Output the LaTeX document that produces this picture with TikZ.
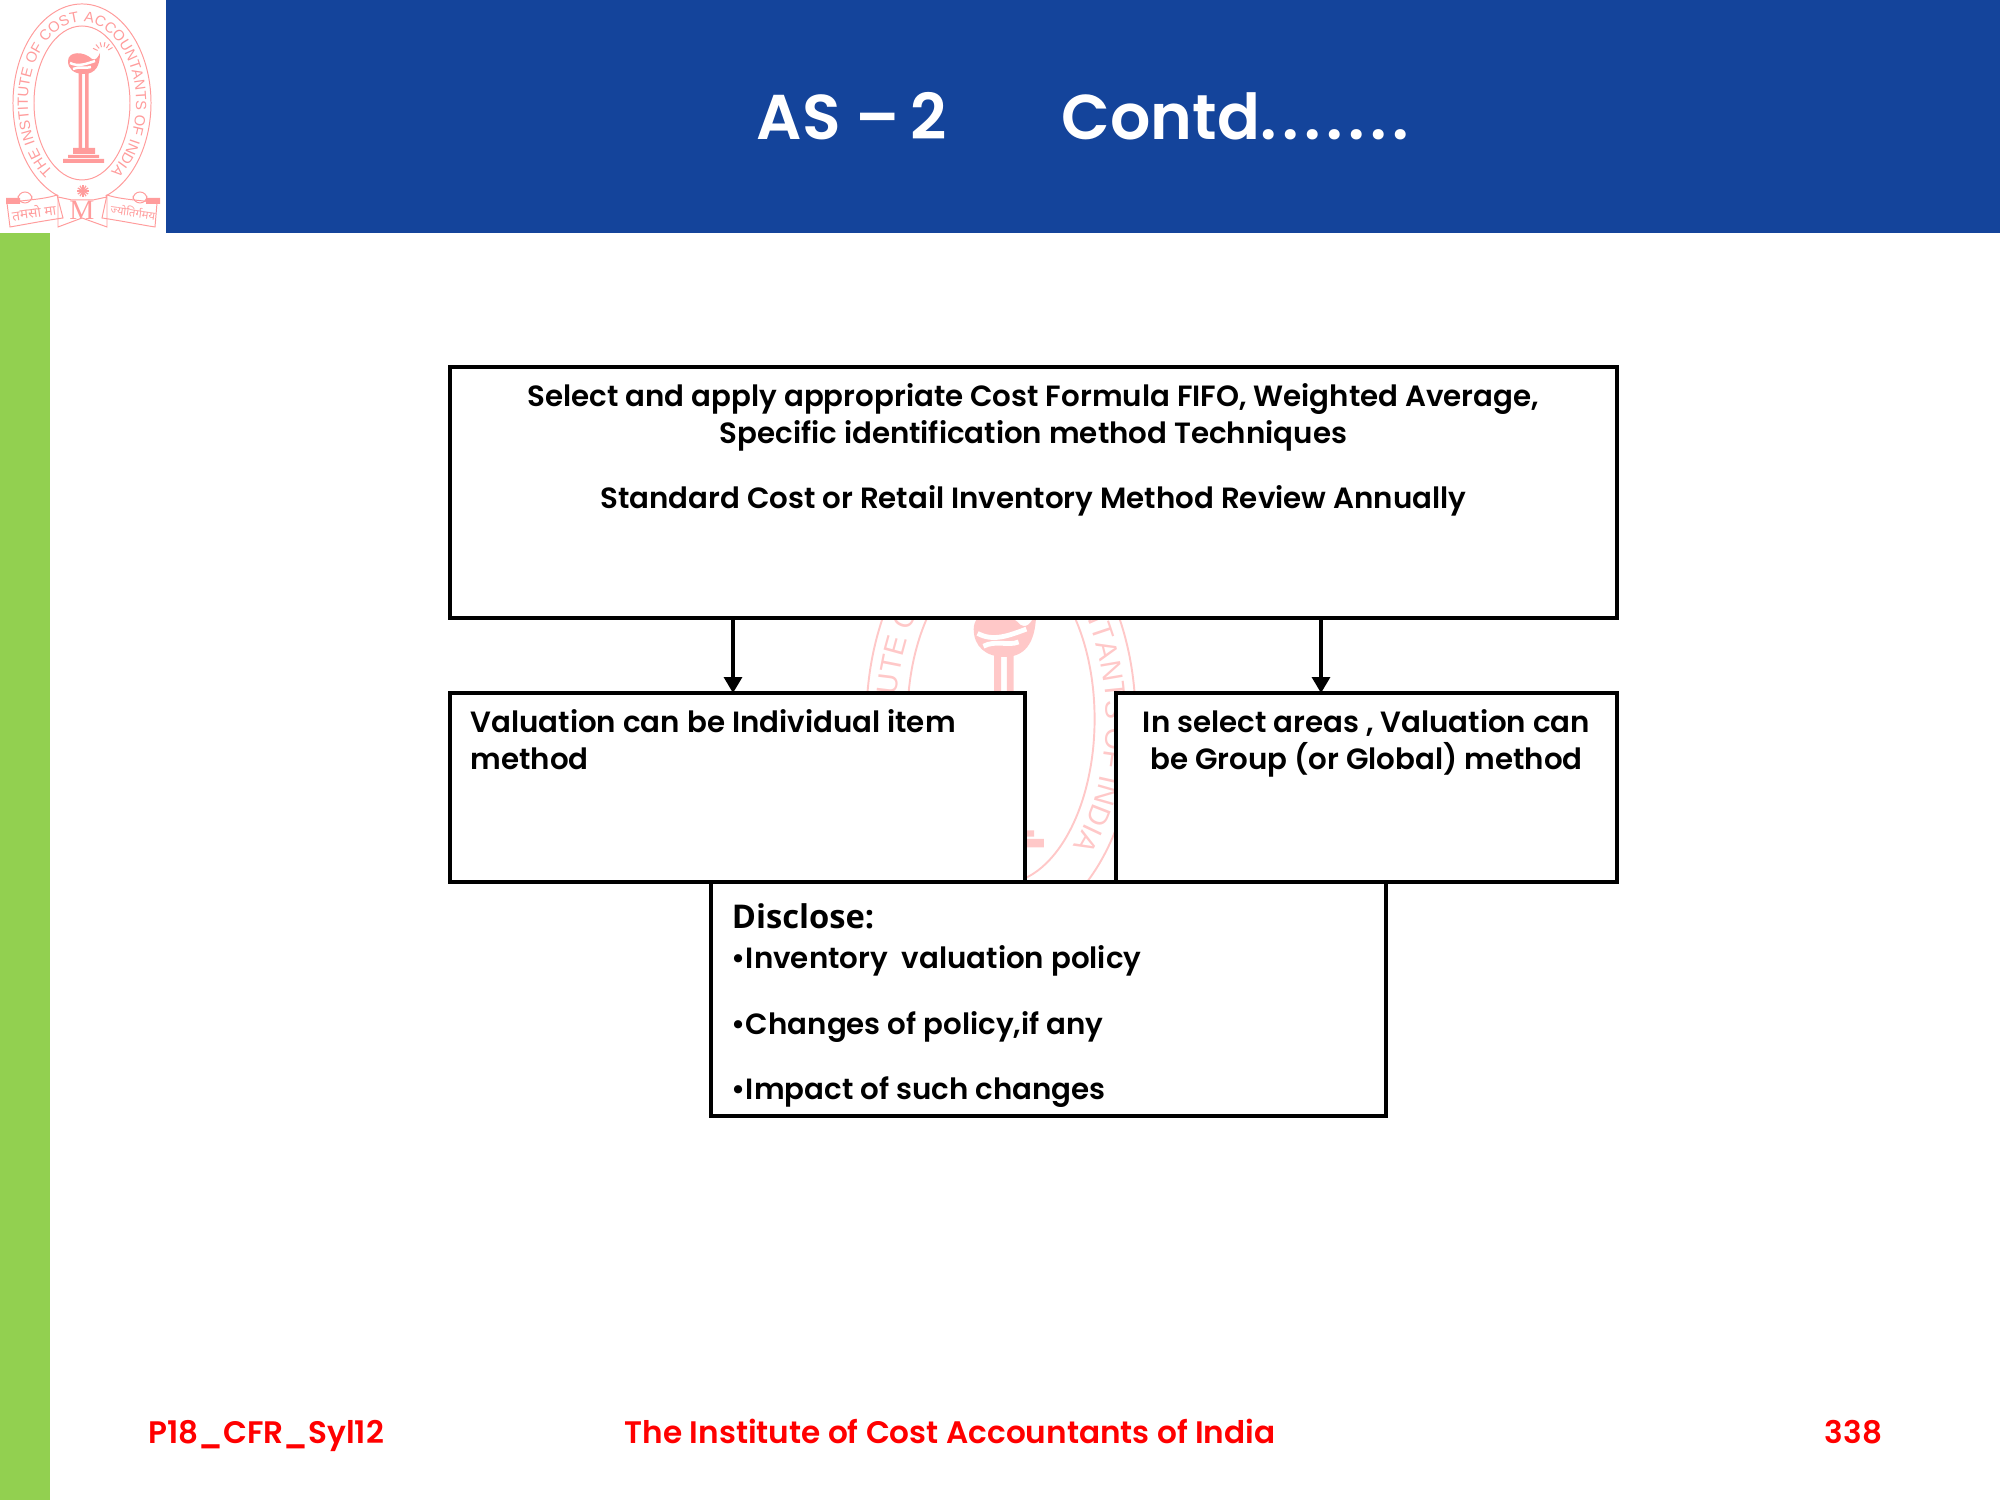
\documentclass[tikz,border=0pt]{standalone}
\usepackage{fontspec}
\setmainfont{Poppins}[BoldFont={Poppins SemiBold}]
\newfontfamily\disclosefont{Open Sans}
\newfontfamily\emblemfont{Liberation Sans}
\newfontfamily\hindifont[Script=Devanagari]{Noto Sans}
\newfontfamily\mfont{Liberation Serif}
\usepackage{xcolor}
\usepackage{tikz}
\usetikzlibrary{arrows.meta,positioning,decorations.text}
\definecolor{bandblue}{RGB}{20,68,155}
\definecolor{sidegreen}{RGB}{146,208,80}
\definecolor{footred}{RGB}{255,0,0}
\definecolor{emblempink}{RGB}{255,156,156}
\definecolor{markpink}{RGB}{255,200,200}
\tikzset{
  flowbox/.style={draw=black, line width=1.15pt, fill=white, outer sep=0pt, inner sep=0pt},
  boxtext/.style={inner sep=0pt, font=\fontsize{8.33}{10.4}\selectfont\bfseries, align=left},
  titletext/.style={text=white, inner sep=0pt, font=\fontsize{18}{20}\selectfont\bfseries},
  foottext/.style={text=footred, inner sep=0pt, font=\fontsize{8.85}{10}\selectfont\bfseries},
  flow/.style={-{Triangle[length=1.6mm,width=1.75mm]}, line width=1.15pt}
}
% x, y, x scale, y scale, colour
\newcommand{\emblem}[5]{
\begin{scope}[shift={(#1,#2)},xscale=#3,yscale=#4,draw=#5,line width=#3*0.28pt]
  \newcommand{\letterfont}{\emblemfont\fontsize{\fpeval{#3*4.2}}{\fpeval{#3*5}}\selectfont}
  \draw (0,0) ellipse [x radius=48,y radius=77];
  \draw (0,0) ++(250:69 and 99) arc [start angle=250,end angle=-70,x radius=69,y radius=99];
  \path[decorate,decoration={text along path,text align=center,text color=#5,
    text={|\letterfont|THE INSTITUTE OF COST ACCOUNTANTS OF INDIA}}]
    (0,0) ++(238:54 and 81) arc [start angle=238,end angle=-58,x radius=54,y radius=81];
  % pillar and base
  \fill[#5] (-3.5,-45) rectangle (0,30) (3,-45) rectangle (6.5,30);
  \fill[#5] (-9,-51) rectangle (13,-45) (-14,-55) rectangle (17,-52) (-19,-60) rectangle (22,-56);
  % lamp
  \fill[#5] (-14,42) .. controls (-14,52) and (2,52) .. (10,44) .. controls (14,42) and (16,46) .. (18,50)
    .. controls (18,38) and (14,29) .. (2,29) .. controls (-8,29) and (-14,34) .. (-14,42) -- cycle;
  \draw[white,line width=#3*0.7pt] (-12,40) .. controls (-4,36) and (4,39) .. (13,42);
  \draw[white,line width=#3*0.7pt] (-9,34) .. controls (-3,37) and (4,34) .. (9,36);
  \foreach \ang in {30,55,...,155}
    \draw (21,50) ++(\ang:6) -- ++(\ang:5);
  % star
  \foreach \ang in {0,30,...,330}
    \draw[line width=#3*0.35pt] (1,-88) -- ++(\ang:6);
  % scrolls
  \draw (-75,-100) .. controls (-60,-97) and (-40,-97) .. (-25,-92) -- (-19,-115)
    .. controls (-40,-118) and (-60,-122) .. (-72,-124) -- cycle;
  \draw (25,-92) .. controls (40,-97) and (60,-97) .. (75,-100) -- (73,-124)
    .. controls (60,-122) and (40,-118) .. (20,-115) -- cycle;
  \draw (-24,-94) -- (-10,-97) -- (11,-97) -- (25,-94) -- (25,-124) -- (0,-115) -- (-24,-124) -- cycle;
  \fill[#5] (-76,-95) rectangle (-62,-101) (64,-95) rectangle (78,-101);
  \draw[rounded corners=#3*2pt] (-64,-89) rectangle (-50,-100) (51,-89) rectangle (65,-100);
  \node[text=#5,inner sep=0pt,font=\mfont\fontsize{\fpeval{#3*8}}{\fpeval{#3*9}}\selectfont] (mletter) at (0,-107) {M};
  \node[text=#5,inner sep=0pt,rotate=8,font=\hindifont\fontsize{\fpeval{#3*3.9}}{\fpeval{#3*5}}\selectfont] (lscroll) at (-48,-109) {तमसो मा};
  \node[text=#5,inner sep=0pt,rotate=-8,font=\hindifont\fontsize{\fpeval{#3*3.2}}{\fpeval{#3*5}}\selectfont] (rscroll) at (51,-109) {ज्योतिर्गमय};
\end{scope}}

\begin{document}
\begin{tikzpicture}[x=0.01cm,y=0.01cm]
\useasboundingbox (0,0) rectangle (2000,1500);

% slide furniture
\fill[bandblue] (166,1500) rectangle (2000,1266.5);
\fill[sidegreen] (0,1267) rectangle (50,0);
\emblem{82}{1397}{1}{1}{emblempink}
\emblem{1001}{781}{1.95}{2.14}{markpink}

\node[titletext, anchor=base west] (as) at (756,1360) {AS -- \kern-1.2pt 2};
\node[titletext, anchor=base west] (contd) at (1061,1360) {Contd.\kern1.6pt.\kern1.6pt.\kern1.6pt.\kern1.6pt.\kern1.6pt.\kern1.6pt.};

% boxes
\node[flowbox, minimum width=116.6mm, minimum height=25.1mm, anchor=north west] (rule) at (450,1133) {};
\node[flowbox, minimum width=57.5mm, minimum height=18.9mm, below=7.5mm of rule.south west, anchor=north west] (item) {};
\node[flowbox, minimum width=50mm, minimum height=18.9mm, below=7.5mm of rule.south east, anchor=north east] (group) {};
\node[flowbox, minimum width=67.4mm, minimum height=23.4mm, below=0mm of item.south west, anchor=north west, xshift=26.1mm] (disclose) {};

\draw[flow] (rule.south -| 733,0) -- (item.north -| 733,0);
\draw[flow] (rule.south -| 1321,0) -- (group.north -| 1321,0);

% box texts
\node[boxtext, align=center, below=1.6mm of rule.north] (ruletext) {Select and apply appropriate Cost Formula FIFO, Weighted Average,\\Specific identification method Techniques\\[8.1pt]Standard Cost or Retail Inventory Method Review Annually};
\node[boxtext, below=1.6mm of item.north west, anchor=north west, xshift=2mm] (itemtext) {Valuation can be Individual item\\method};
\node[boxtext, align=center, below=1.6mm of group.north] (grouptext) {In select areas , Valuation can\\be Group (or Global) method};
\node[boxtext, font=\disclosefont\fontsize{9.3}{11}\selectfont\bfseries, below=2.1mm of disclose.north west, anchor=north west, xshift=2mm] (disclosetext) {Disclose:};
\node[boxtext, below=1.5mm of disclosetext.south west, anchor=north west] (policytext) {\textbullet Inventory\ \ valuation policy\\[8.2pt]\textbullet Changes of policy,if any\\[8.2pt]\textbullet Impact of such changes};

% footer
\node[foottext, anchor=base west] (syl) at (148,56) {P18\_CFR\_Syl12};
\node[foottext, anchor=base west] (inst) at (624,56) {The Institute of Cost Accountants of India};
\node[foottext, anchor=base west] (page) at (1824,56) {338};
\end{tikzpicture}
\end{document}
